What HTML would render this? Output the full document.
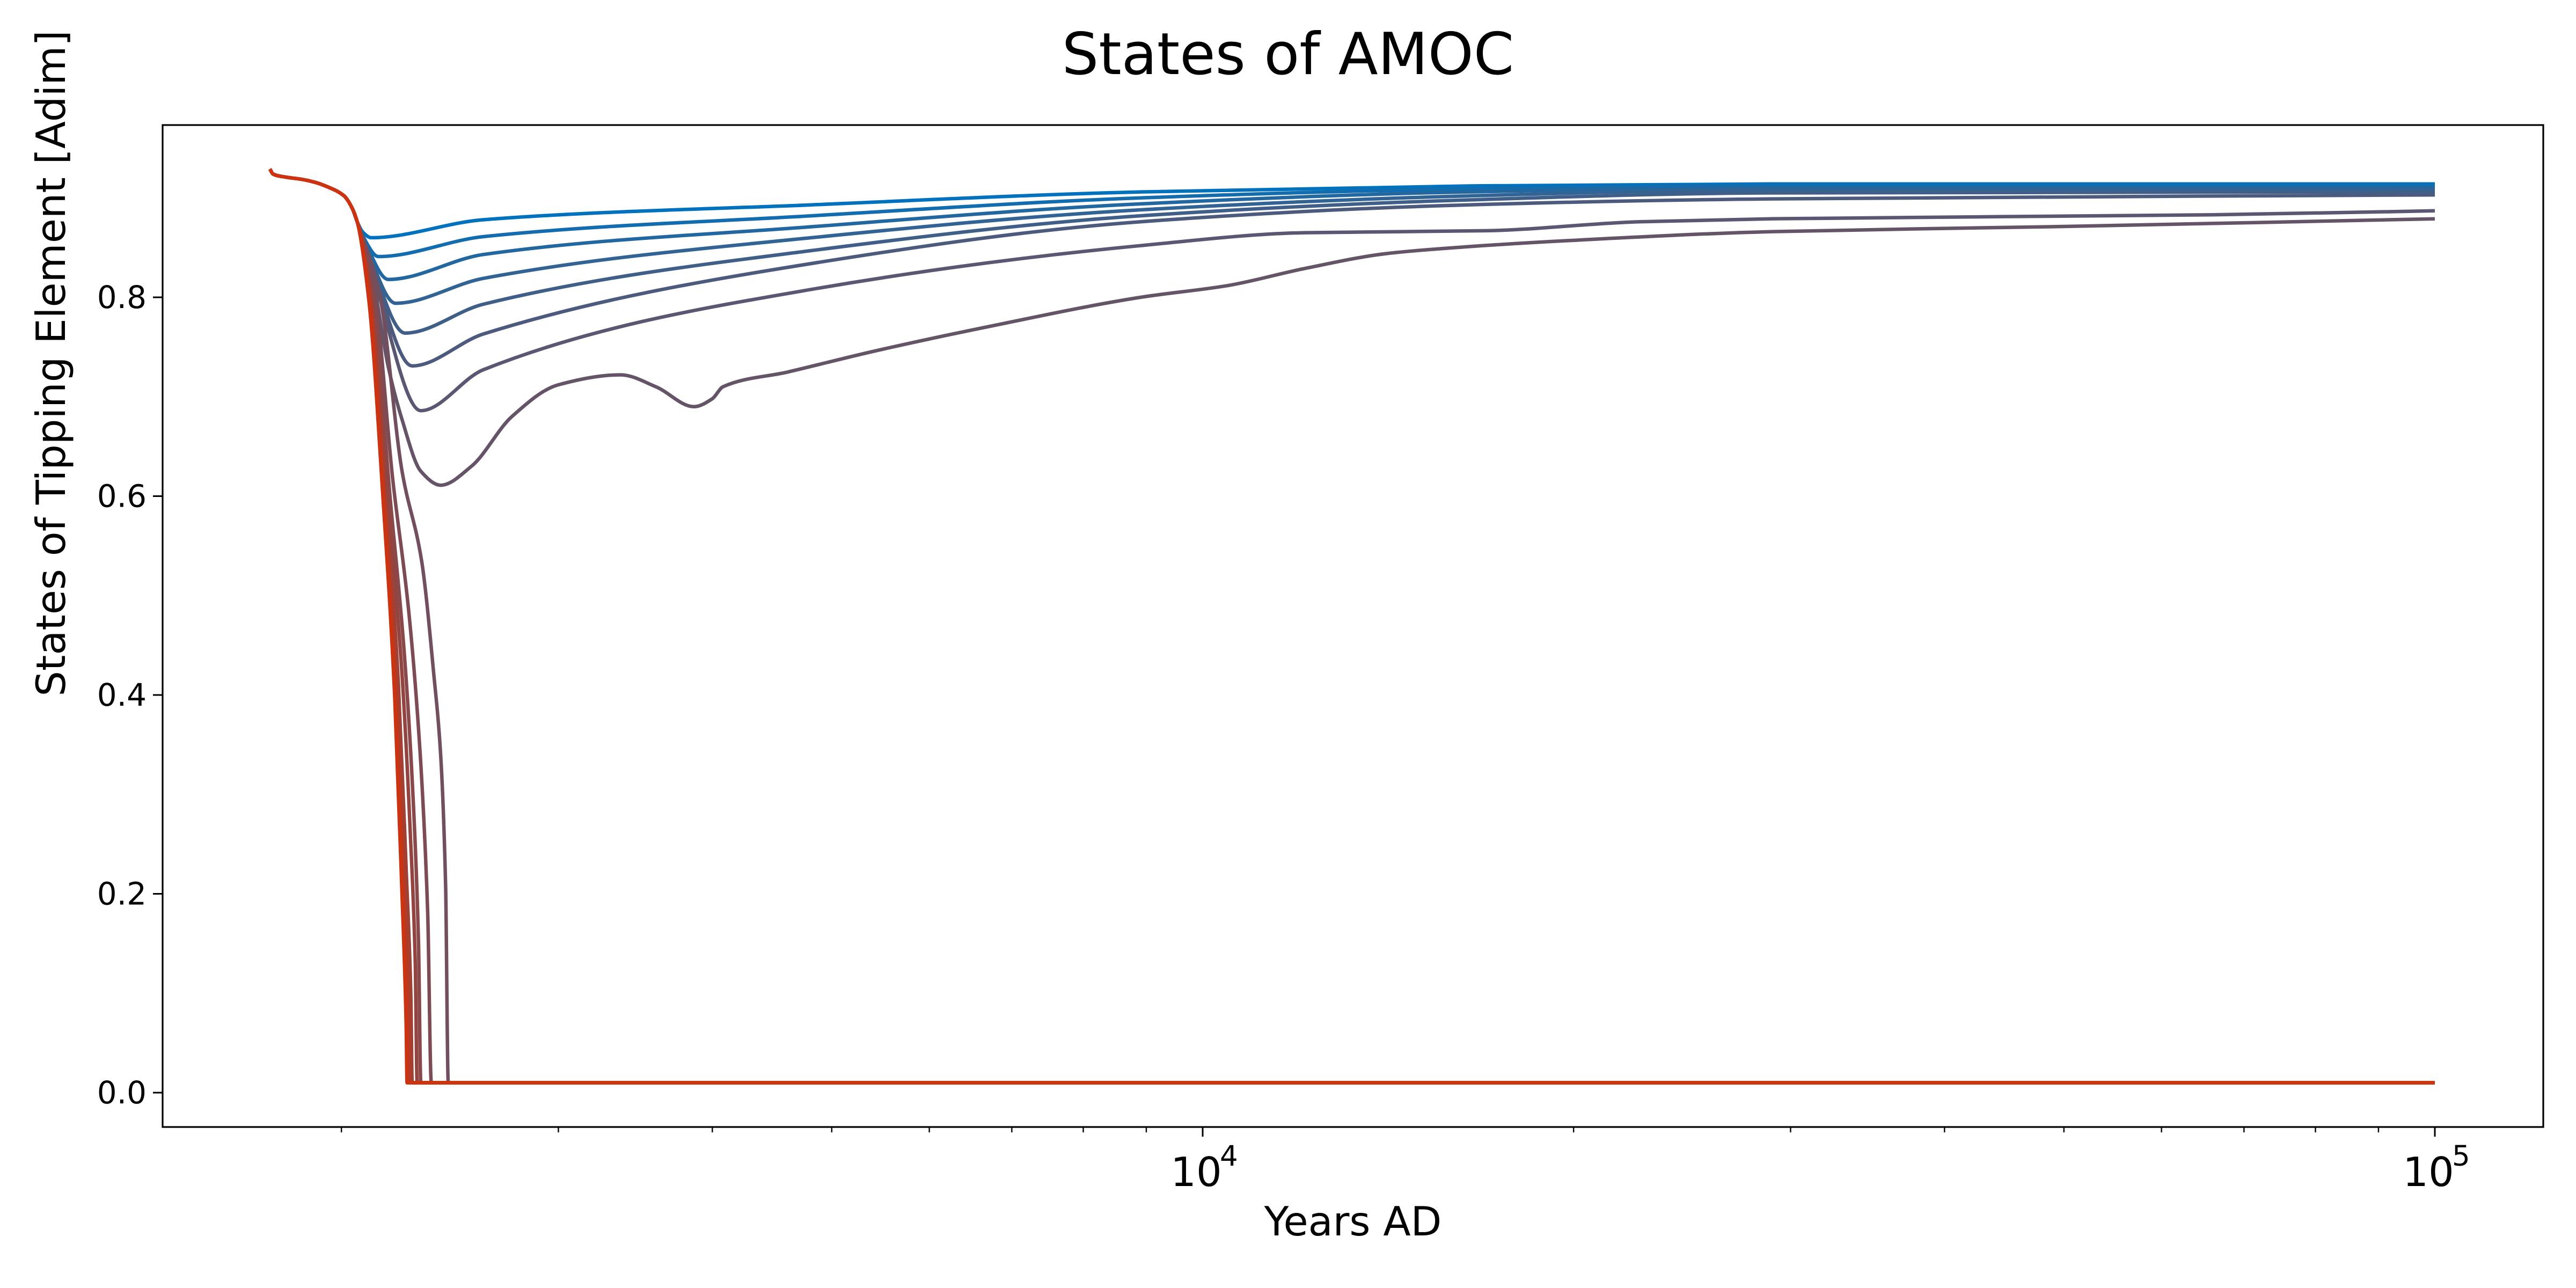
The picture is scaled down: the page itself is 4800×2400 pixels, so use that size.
<!DOCTYPE html>
<html><head><meta charset="utf-8"><style>
html,body{margin:0;padding:0;background:#fff;}
svg{display:block;font-family:"DejaVu Sans","Liberation Sans",sans-serif;}
</style></head><body>
<svg id="chart" width="4800" height="2400" viewBox="0 0 4800 2400" xmlns="http://www.w3.org/2000/svg">
<rect x="0" y="0" width="4800" height="2400" fill="#fff"/>
<text x="2400" y="138" text-anchor="middle" font-size="108">States of AMOC</text>
<g id="plot"></g>
<g id="axes"></g>
<text x="2521" y="2302" text-anchor="middle" font-size="75">Years AD</text>
<text transform="translate(95,677) rotate(-90)" text-anchor="middle" dominant-baseline="central" font-size="75">States of Tipping Element [Adim]</text>
</svg>
<script>
const prefix = [[1750,0.929],[1760,0.924],[1800,0.921],[1850,0.919],[1900,0.916],[1950,0.911],[2010,0.902],[2040,0.89],[2060,0.876]];
const stable0 = [[2080,0.866],[2115,0.860],[2606,0.878],[4815,0.893],[8903,0.906],[16450,0.912],[28900,0.914],[100000,0.914]];
const stable1 = [[2085,0.860],[2143,0.841],[2606,0.861],[4815,0.882],[8903,0.900],[16450,0.909],[28900,0.912],[100000,0.912]];
const stable2 = [[2095,0.853],[2183,0.818],[2606,0.843],[4815,0.871],[8903,0.894],[16450,0.906],[28900,0.910],[100000,0.910]];
const stable3 = [[2100,0.847],[2213,0.794],[2606,0.819],[4815,0.860],[8903,0.888],[16450,0.902],[28900,0.908],[100000,0.908]];
const stable4 = [[2110,0.838],[2253,0.764],[2606,0.793],[4815,0.847],[8903,0.882],[16450,0.898],[28900,0.905],[100000,0.906]];
const stable5 = [[2120,0.828],[2283,0.731],[2606,0.763],[4815,0.834],[8903,0.876],[16450,0.893],[28900,0.899],[100000,0.903]];
const stable6 = [[2130,0.815],[2320,0.686],[2606,0.727],[4815,0.808],[8903,0.852],[12100,0.865],[17000,0.867],[22600,0.876],[28900,0.879],[66000,0.883],[100000,0.887]];
const stable7 = [[2120,0.82],[2183,0.73],[2240,0.677],[2320,0.625],[2408,0.611],[2550,0.63],[2750,0.68],[3000,0.712],[3370,0.722],[3600,0.71],[3865,0.69],[4000,0.698],[4080,0.71],[4611,0.725],[5376,0.745],[6670,0.77],[8903,0.80],[10500,0.812],[12100,0.829],[14100,0.844],[16450,0.851],[19770,0.857],[28900,0.866],[48700,0.871],[100000,0.879]];
const tip0 = [[2150,0.80],[2240,0.625],[2324,0.534],[2376,0.423],[2408,0.338],[2430,0.207],[2442,0.01],[3000,0.01],[100000,0.01]];
const tip1 = [[2130,0.80],[2200,0.62],[2270,0.48],[2320,0.33],[2350,0.18],[2366,0.01],[3000,0.01],[100000,0.01]];
const tip2 = [[2120,0.80],[2190,0.60],[2250,0.44],[2290,0.28],[2310,0.15],[2320,0.01],[3000,0.01],[100000,0.01]];
const tip3 = [[2115,0.80],[2180,0.60],[2240,0.42],[2275,0.26],[2296,0.13],[2304,0.01],[3000,0.01],[100000,0.01]];
const tip4 = [[2112,0.80],[2172,0.60],[2225,0.41],[2258,0.22],[2277,0.10],[2283,0.01],[3000,0.01],[100000,0.01]];
const tip5 = [[2110,0.80],[2168,0.60],[2218,0.405],[2250,0.21],[2269,0.09],[2274,0.01],[3000,0.01],[100000,0.01]];
const tip6 = [[2108,0.80],[2165,0.60],[2213,0.40],[2245,0.21],[2264,0.08],[2268,0.01],[3000,0.01],[100000,0.01]];
const tip7 = [[2107,0.795],[2162,0.60],[2210,0.403],[2240,0.207],[2258,0.07],[2262,0.01],[3000,0.01],[100000,0.01]];
const tip8 = [[2106,0.795],[2161,0.60],[2209,0.40],[2239,0.205],[2257,0.07],[2261,0.01],[3000,0.01],[100000,0.01]];
const seriesList = [stable0,stable1,stable2,stable3,stable4,stable5,stable6,stable7,tip0,tip1,tip2,tip3,tip4,tip5,tip6,tip7,tip8];
const yTicks = [0.0,0.2,0.4,0.6,0.8];
const yTickLabels = ["0.0","0.2","0.4","0.6","0.8"];
const xMajor = [10000,100000];
const xMajorExp = ["4","5"];
const xMinor = [2000,3000,4000,5000,6000,7000,8000,9000,20000,30000,40000,50000,60000,70000,80000,90000];

const NS = "http://www.w3.org/2000/svg";
const AX = {l:303, r:4739, t:233, b:2100};
function xs(v){ return 2241 + (Math.log10(v) - 4) * 2296; }
function ys(v){ return 2036 - v * 1852.5; }

function monotonePath(pts){
  const n = pts.length; const dx=[], m=[], t=new Array(n);
  for(let i=0;i<n-1;i++){ dx.push(pts[i+1][0]-pts[i][0]); m.push((pts[i+1][1]-pts[i][1])/dx[i]); }
  t[0]=m[0]; t[n-1]=m[n-2];
  for(let i=1;i<n-1;i++){ if(m[i-1]*m[i]<=0) t[i]=0; else { const w1=2*dx[i]+dx[i-1], w2=dx[i]+2*dx[i-1]; t[i]=(w1+w2)/(w1/m[i-1]+w2/m[i]); } }
  let d = "M"+pts[0][0].toFixed(1)+","+pts[0][1].toFixed(1);
  for(let i=0;i<n-1;i++){
    const h=dx[i]/3;
    d += " C"+(pts[i][0]+h).toFixed(1)+","+(pts[i][1]+t[i]*h).toFixed(1)+" "+(pts[i+1][0]-h).toFixed(1)+","+(pts[i+1][1]-t[i+1]*h).toFixed(1)+" "+pts[i+1][0].toFixed(1)+","+pts[i+1][1].toFixed(1);
  }
  return d;
}
const c0=[0,114,189], c1=[204,51,17];
function colorAt(t){ t=Math.pow(t,0.85); return "rgb("+c0.map((c,i)=>Math.round(c+(c1[i]-c)*t)).join(",")+")"; }

const plot = document.getElementById("plot");
seriesList.forEach((s,k)=>{
  const pts = prefix.concat(s).map(p=>[xs(p[0]), ys(p[1])]);
  const path = document.createElementNS(NS,"path");
  path.setAttribute("d", monotonePath(pts));
  path.setAttribute("fill","none");
  path.setAttribute("stroke", colorAt(k/(seriesList.length-1)));
  path.setAttribute("stroke-width","6.5");
  path.setAttribute("stroke-linejoin","round");
  
  
  plot.appendChild(path);
});

const axes = document.getElementById("axes");
function add(tag, attrs, txt){ const e=document.createElementNS(NS,tag); for(const a in attrs) e.setAttribute(a,attrs[a]); if(txt!==undefined) e.textContent=txt; axes.appendChild(e); return e; }
const frame = add("rect",{x:AX.l,y:AX.t,width:AX.r-AX.l,height:AX.b-AX.t,fill:"none",stroke:"#000","stroke-width":"3.2"});


yTicks.forEach((v,i)=>{
  const y = ys(v);
  const tk = add("line",{x1:AX.l-18,x2:AX.l,y1:y,y2:y,stroke:"#000","stroke-width":"3"});
  
  
  const lb = add("text",{x:AX.l-30,y:y,"text-anchor":"end","dominant-baseline":"central","font-size":"58"}, yTickLabels[i]);
  
  
});
xMinor.forEach(v=>{
  const x = xs(v);
  const tk = add("line",{x1:x,x2:x,y1:AX.b,y2:AX.b+10,stroke:"#000","stroke-width":"2.4"});
  
  
});
xMajor.forEach((v,i)=>{
  const x = xs(v);
  const tk = add("line",{x1:x,x2:x,y1:AX.b,y2:AX.b+18,stroke:"#000","stroke-width":"3"});
  
  
  const lb = add("text",{x:x-12,y:2210,"text-anchor":"middle","font-size":"75"},"10");
  
  
  const ex = add("text",{x:x+32,y:2172,"text-anchor":"start","font-size":"53"}, xMajorExp[i]);
  
  
});
</script>
</body></html>
